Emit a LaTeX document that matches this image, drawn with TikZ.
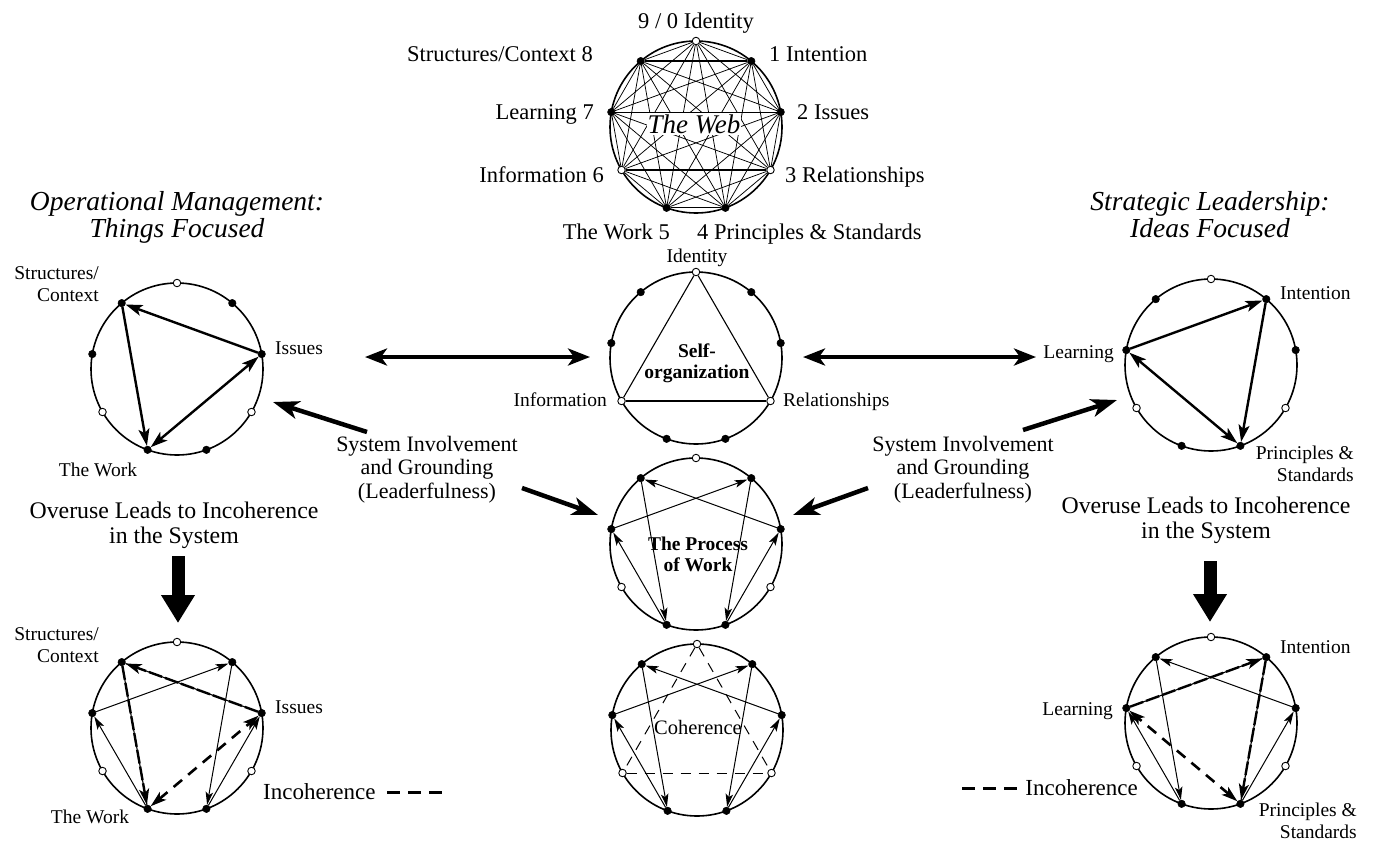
\documentclass[tikz,border=0pt]{standalone}
\usepackage{fontspec}
\setmainfont{Liberation Serif}
\usetikzlibrary{arrows.meta,calc}

\tikzset{
  ring/.style={line width=1.6pt},
  fdot/.style={circle,fill=black,draw=black,inner sep=0pt,minimum size=7.5pt,line width=0.5pt},
  odot/.style={circle,fill=white,draw=black,inner sep=0pt,minimum size=7.5pt,line width=0.9pt},
  webline/.style={line width=0.75pt},
  thinl/.style={line width=1.1pt},
  thinarr/.style={line width=1pt,-{Stealth[length=13pt,width=7.5pt,inset=3pt]}},
  thickarr/.style={line width=2.4pt,-{Stealth[length=17pt,width=11pt,inset=4pt]}},
  thickdbl/.style={line width=2.4pt,{Stealth[length=17pt,width=11pt,inset=4pt]}-{Stealth[length=17pt,width=11pt,inset=4pt]}},
  overdash/.style={line width=2.4pt,dash pattern=on 14pt off 3pt,-{Stealth[length=16pt,width=10pt,inset=4pt]}},
  incdbl/.style={line width=2.6pt,dash pattern=on 11pt off 8pt,{Stealth[length=16pt,width=10pt,inset=4pt]}-{Stealth[length=16pt,width=10pt,inset=4pt]}},
  cdash/.style={line width=1pt,dash pattern=on 10pt off 8pt},
  legdash/.style={line width=3pt,dash pattern=on 13pt off 8pt},
  bigdbl/.style={line width=4pt,{Stealth[length=22pt,width=17pt,inset=6pt]}-{Stealth[length=22pt,width=17pt,inset=6pt]}},
  sysarr/.style={line width=4.5pt,-{Stealth[length=26pt,width=18pt,inset=7pt]}},
  bigdown/.style={line width=13pt,-{Triangle[length=28pt,width=32pt]}},
  wlab/.style={inner sep=0pt,font=\fontsize{22.5}{25}\selectfont},
  slab/.style={inner sep=0pt,font=\fontsize{19.5}{22}\selectfont},
  headlab/.style={inner sep=0pt,align=center,font=\itshape\fontsize{27.5}{27}\selectfont},
  overlab/.style={inner sep=0pt,align=center,font=\fontsize{23.8}{25}\selectfont},
  syslab/.style={inner sep=0pt,align=center,font=\fontsize{22}{23.5}\selectfont},
  inclab/.style={inner sep=0pt,font=\fontsize{23}{24}\selectfont},
  midlab/.style={inner sep=0pt,align=center,font=\bfseries\fontsize{19.5}{21}\selectfont},
}

\newcommand{\mkring}[3]{%
  \draw[ring] (#2,#3) circle[radius=86pt];
  \foreach \k in {0,...,8}{%
    \pgfmathsetmacro{\ang}{90-40*\k}%
    \pgfmathtruncatemacro{\m}{mod(\k,3)}%
    \ifnum\m=0
      \node[odot] (#1p\k) at ($(#2,#3)+(\ang:86pt)$) {};
    \else
      \node[fdot] (#1p\k) at ($(#2,#3)+(\ang:86pt)$) {};
    \fi
  }%
}
\newcommand{\mkflow}[2]{%
  \draw[#2] (#1p1) -- (#1p4);
  \draw[#2] (#1p4) -- (#1p2);
  \draw[#2] (#1p2) -- (#1p8);
  \draw[#2] (#1p8) -- (#1p5);
  \draw[#2] (#1p5) -- (#1p7);
  \draw[#2] (#1p7) -- (#1p1);
}

\begin{document}
\begin{tikzpicture}[x=1pt,y=1pt]
\useasboundingbox (0,0) rectangle (1373,-844);
\fill[white] (0,0) rectangle (1373,-844);

% ---------- The Web ----------
\mkring{W}{696}{-127}
\foreach \i in {0,...,7}{%
  \pgfmathtruncatemacro\ii{\i+1}%
  \foreach \j in {\ii,...,8}{\draw[webline] (Wp\i) -- (Wp\j);}%
}
\draw[line width=1.3pt] (Wp8) -- (Wp1);
\draw[line width=1.3pt] (Wp6) -- (Wp3);
\node[fill=white,inner sep=1pt,font=\itshape\fontsize{27}{30}\selectfont] (webt) at (694,-124) {The Web};

\node[wlab,anchor=base] (w0) at (696,-28) {9 / 0 Identity};
\node[wlab,anchor=base east] (w8) at (593,-61) {Structures/Context\ 8};
\node[wlab,anchor=base west] (w1) at (769,-61) {1 Intention};
\node[wlab,anchor=base east] (w7) at (594,-119) {Learning 7};
\node[wlab,anchor=base west] (w2) at (797,-119) {2 Issues};
\node[wlab,anchor=base east] (w6) at (604,-182) {Information 6};
\node[wlab,anchor=base west] (w3) at (785,-182) {3 Relationships};
\node[wlab,anchor=base east] (w5) at (670,-239) {The Work 5};
\node[wlab,anchor=base west] (w4) at (697,-239) {4 Principles \& Standards};

% ---------- Self-organization ----------
\mkring{S}{696}{-358}
\draw[thinl] (Sp0) -- (Sp3);
\draw[thinl] (Sp3) -- (Sp6);
\draw[thinl] (Sp6) -- (Sp0);
\node[midlab] (selft) at (697,-363) {Self-\\organization};
\node[slab,anchor=base] (sid) at (697,-262) {Identity};
\node[slab,anchor=base east] (sinf) at (607,-406) {Information};
\node[slab,anchor=base west] (srel) at (783,-406) {Relationships};

% ---------- Process of Work ----------
\mkring{Q}{696}{-544}
\mkflow{Q}{thinarr}
\node[midlab] (qt) at (698,-554) {The Process\\of Work};

% ---------- Coherence ----------
\mkring{C}{697}{-730}
\draw[cdash] (Cp0) -- (Cp3);
\draw[cdash] (Cp0) -- (Cp6);
\draw[cdash] (Cp6) -- (Cp3);
\mkflow{C}{thinarr}
\node[inner sep=0pt,font=\fontsize{20.5}{22}\selectfont,anchor=base] (ct) at (698,-734) {Coherence};

% ---------- Left top ----------
\node[headlab,anchor=north] (headL) at (177,-191) {Operational Management:\\Things Focused};
\mkring{La}{177}{-369}
\draw[thickarr] (Lap2) -- (Lap8);
\draw[thickarr] (Lap8) -- (Lap5);
\draw[thickdbl] (Lap5) -- (Lap2);
\node[slab,align=right,anchor=north east] (laS) at (99,-266) {Structures/\\Context};
\node[slab,anchor=base west] (laI) at (275,-354) {Issues};
\node[slab,anchor=base] (laW) at (98,-476) {The Work};
\node[overlab,anchor=north] (ovL) at (174,-502) {Overuse Leads to Incoherence\\in the System};
\coordinate (dL1) at (178,-556);
\coordinate (dL2) at (178,-623);
\draw[bigdown] (dL1) -- (dL2);

% ---------- Left bottom ----------
\mkring{Lb}{177}{-728}
\draw[thinarr] (Lbp1) -- (Lbp4);
\draw[thinarr] (Lbp4) -- (Lbp2);
\draw[thinarr] (Lbp5) -- (Lbp7);
\draw[thinarr] (Lbp7) -- (Lbp1);
\draw[thinl] (Lbp2) -- (Lbp8);
\draw[overdash] (Lbp2) -- (Lbp8);
\draw[thinl] (Lbp8) -- (Lbp5);
\draw[overdash] (Lbp8) -- (Lbp5);
\draw[incdbl] (Lbp5) -- (Lbp2);
\node[slab,align=right,anchor=north east] (lbS) at (99,-627) {Structures/\\Context};
\node[slab,anchor=base west] (lbI) at (275,-713) {Issues};
\node[slab,anchor=base] (lbW) at (90,-823) {The Work};
\node[inclab,anchor=base west] (incL) at (263,-799) {Incoherence};
\coordinate (incL1) at (387,-792);
\coordinate (incL2) at (442,-792);
\draw[legdash] (incL1) -- (incL2);

% ---------- Right top ----------
\node[headlab,anchor=north] (headR) at (1210,-191) {Strategic Leadership:\\Ideas Focused};
\mkring{Ra}{1211}{-365}
\draw[thickarr] (Rap7) -- (Rap1);
\draw[thickarr] (Rap1) -- (Rap4);
\draw[thickdbl] (Rap4) -- (Rap7);
\node[slab,anchor=base west] (raI) at (1280,-299) {Intention};
\node[slab,anchor=base east] (raL) at (1114,-358) {Learning};
\node[slab,align=right,anchor=north east] (raP) at (1354,-446) {Principles \&\\Standards};
\node[overlab,anchor=north] (ovR) at (1206,-497) {Overuse Leads to Incoherence\\in the System};
\coordinate (dR1) at (1210,-561);
\coordinate (dR2) at (1210,-622);
\draw[bigdown] (dR1) -- (dR2);

% ---------- Right bottom ----------
\mkring{Rb}{1211}{-723}
\draw[thinarr] (Rbp4) -- (Rbp2);
\draw[thinarr] (Rbp2) -- (Rbp8);
\draw[thinarr] (Rbp8) -- (Rbp5);
\draw[thinarr] (Rbp5) -- (Rbp7);
\draw[thinl] (Rbp7) -- (Rbp1);
\draw[overdash] (Rbp7) -- (Rbp1);
\draw[thinl] (Rbp1) -- (Rbp4);
\draw[overdash] (Rbp1) -- (Rbp4);
\draw[incdbl] (Rbp4) -- (Rbp7);
\node[slab,anchor=base west] (rbI) at (1280,-653) {Intention};
\node[slab,anchor=base east] (rbL) at (1113,-715) {Learning};
\node[slab,align=right,anchor=north east] (rbP) at (1357,-803) {Principles \&\\Standards};
\node[inclab,anchor=base east] (incR) at (1138,-795) {Incoherence};
\coordinate (incR1) at (962,-788);
\coordinate (incR2) at (1018,-788);
\draw[legdash] (incR1) -- (incR2);

% ---------- Middle connectors ----------
\coordinate (hl1) at (365,-357);
\coordinate (hl2) at (590,-357);
\draw[bigdbl] (hl1) -- (hl2);
\coordinate (hr1) at (803,-357);
\coordinate (hr2) at (1036,-357);
\draw[bigdbl] (hr1) -- (hr2);

\node[syslab,anchor=north] (sysL) at (427,-436) {System Involvement\\and Grounding\\(Leaderfulness)};
\node[syslab,anchor=north] (sysR) at (963,-436) {System Involvement\\and Grounding\\(Leaderfulness)};

\coordinate (sl1) at (367,-432);
\coordinate (sl2) at (273,-402);
\draw[sysarr] (sl1) -- (sl2);
\coordinate (sl3) at (522,-488);
\coordinate (sl4) at (598,-515);
\draw[sysarr] (sl3) -- (sl4);
\coordinate (sr1) at (1023,-430);
\coordinate (sr2) at (1117,-400);
\draw[sysarr] (sr1) -- (sr2);
\coordinate (sr3) at (868,-488);
\coordinate (sr4) at (793,-515);
\draw[sysarr] (sr3) -- (sr4);
\end{tikzpicture}
\end{document}
